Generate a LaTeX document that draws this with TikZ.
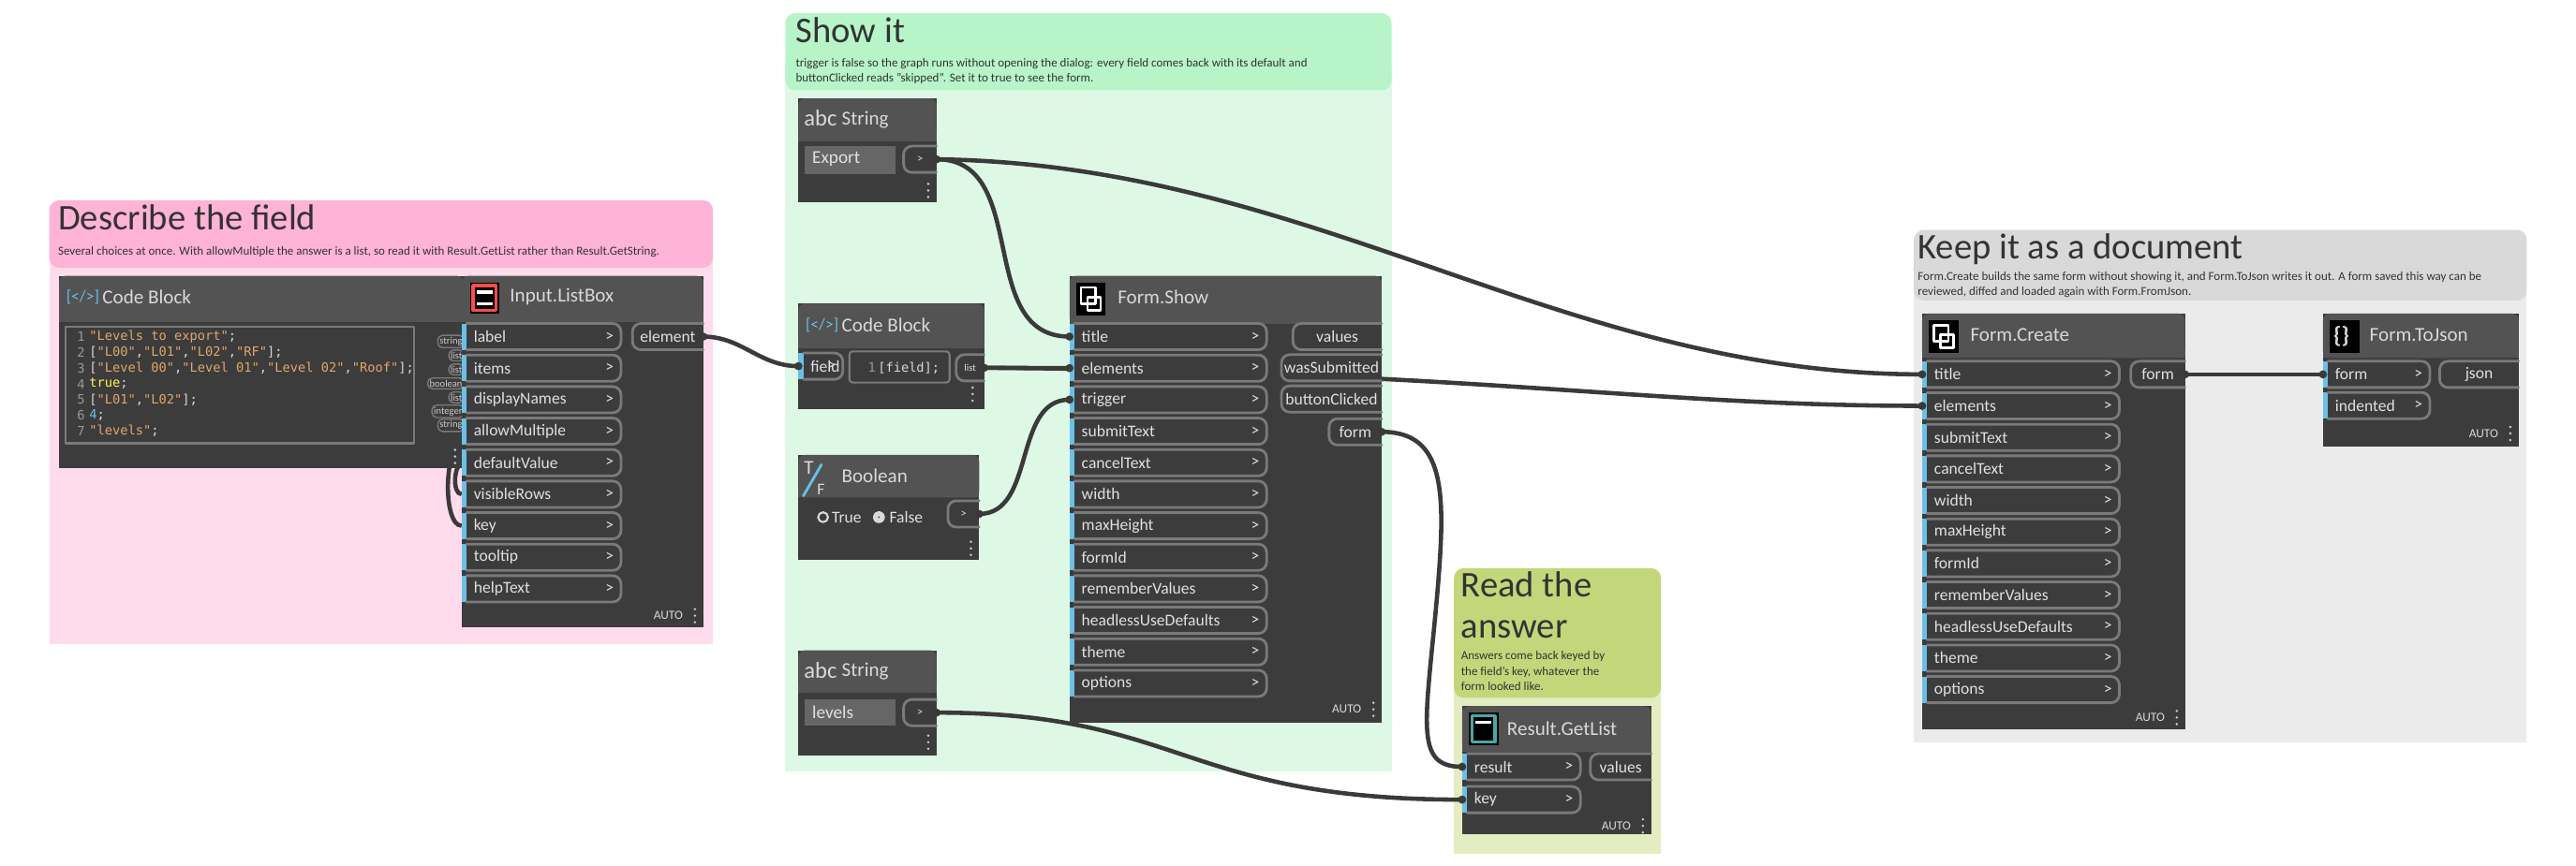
\documentclass[tikz,border=0pt]{standalone}
\usepackage{fontspec}
\setmainfont{Carlito}
\newfontfamily\codefont{DejaVu Sans Mono}
\usetikzlibrary{positioning}
\pgfdeclarelayer{grp}
\pgfdeclarelayer{wires}
\pgfsetlayers{grp,wires,main}
\definecolor{pinkhead}{HTML}{FFB3D6}
\definecolor{pinkbody}{HTML}{FFDCEB}
\definecolor{greenhead}{HTML}{B7F5C9}
\definecolor{greenbody}{HTML}{DDF8E5}
\definecolor{olivehead}{HTML}{C3D77A}
\definecolor{olivebody}{HTML}{E4ECC2}
\definecolor{greyhead}{HTML}{D9D9D9}
\definecolor{greybody}{HTML}{EBEBEB}
\definecolor{nodebg}{HTML}{3C3C3C}
\definecolor{nodehead}{HTML}{535353}
\definecolor{portblue}{HTML}{6AC0E7}
\definecolor{portline}{HTML}{7A7A7A}
\definecolor{wirecol}{HTML}{3A3A3A}
\definecolor{strcol}{HTML}{E0A86A}
\definecolor{grptext}{HTML}{333333}
\tikzset{
  grptitle/.style={anchor=north west,inner sep=0pt,text=grptext,font=\fontsize{11}{12.5}\selectfont},
  grpnote/.style={anchor=north west,inner sep=0pt,text=grptext,font=\fontsize{3.7}{4.8}\selectfont,align=left},
  ntitle/.style={anchor=west,inner sep=0pt,text=white!85!black,font=\fontsize{6}{7}\selectfont},
  plabel/.style={inner sep=0pt,text=white!88!black,font=\fontsize{5}{6}\selectfont},
  autolbl/.style={inner sep=0pt,text=white!85!black,font=\fontsize{3.8}{4}\selectfont},
  codetxt/.style={anchor=west,inner sep=0pt,font=\codefont\fontsize{3.9}{5}\selectfont},
  pbox/.style={draw=portline,line width=0.8pt,rounded corners=2.5pt},
  wire/.style={draw=wirecol,line width=1.3pt},
}
% node body with header band
\newcommand\dynbox[5]{%
  \fill[nodebg] (#1,#2) rectangle (#3,#4);
  \fill[nodehead,rounded corners=2pt] (#1,#5) |- (#3,#2) -- (#3,#5) -- cycle;
  \fill[nodehead] (#1,#5-6) rectangle (#3,#5);
}
% input port: name, x, y, width, label
\newcommand\inport[5]{%
  \fill[portblue] (#2,#3-8) rectangle (#2+3,#3+8);
  \draw[pbox] (#2+3,#3-8) -- (#2+#4,#3-8) -- (#2+#4,#3+8) -- (#2+3,#3+8);
  \node[plabel,anchor=west] at (#2+7,#3) {#5};
  \node[plabel,anchor=east] at (#2+#4-4,#3) {>};
  \coordinate (#1) at (#2,#3);
}
% output port: name, x1, x2, y, label
\newcommand\outport[5]{%
  \draw[pbox] (#3,#4-8) -- (#2,#4-8) -- (#2,#4+8) -- (#3,#4+8);
  \node[plabel] at ({(#2+#3)/2},#4) {#5};
  \coordinate (#1) at (#3,#4);
}
\newcommand\autotag[2]{%
  \node[autolbl,anchor=east] at (#1-12,#2) {AUTO};
  \foreach \d in {-4,0,4} \fill[white!80!black] (#1-5,#2+\d) circle (0.8);
}
\newcommand\formicon[2]{%
  \fill[black] (#1,#2) rectangle (#1+18,#2+20);
  \draw[white,line width=0.8pt] (#1+3,#2+3) rectangle (#1+12,#2+13);
  \draw[white,line width=0.8pt] (#1+7,#2+9) rectangle (#1+15,#2+17);
}
\begin{document}
\begin{tikzpicture}[x=0.01754cm,y=-0.01754cm,line cap=round,line join=round]
\useasboundingbox (0,0) rectangle (1568,527);
\begin{pgfonlayer}{grp}
\fill[white] (0,0) rectangle (1568,527);

% groups
\fill[pinkbody] (30,150) rectangle (434,392);
\fill[pinkhead,rounded corners=3pt] (30,163) |- (434,122) -- (434,163) -- cycle;
\node[grptitle] (tdescribe) at (35,124) {Describe the field};
\node[grpnote] at (35,150) {Several choices at once. With allowMultiple the answer is a list, so read it with Result.GetList rather than Result.GetString.};

\fill[greenbody] (478,40) rectangle (847,470);
\fill[greenhead,rounded corners=3pt] (478,55) |- (847,8) -- (847,55) -- cycle;
\node[grptitle] (tshow) at (484,10) {Show it};
\node[grpnote] at (484,35) {trigger is false so the graph runs without opening the dialog: every field comes back with its default and\\buttonClicked reads "skipped". Set it to true to see the form.};

\fill[olivebody] (885,410) rectangle (1011,520);
\fill[olivehead,rounded corners=3pt] (885,425) |- (1011,346) -- (1011,425) -- cycle;
\node[grptitle,align=left] (tread) at (889,348) {Read the\\answer};
\node[grpnote] at (889,396) {Answers come back keyed by\\the field's key, whatever the\\form looked like.};

\fill[greybody] (1165,170) rectangle (1538,452);
\fill[greyhead,rounded corners=3pt] (1165,183) |- (1538,140) -- (1538,183) -- cycle;
\node[grptitle] (tkeep) at (1167,142) {Keep it as a document};
\node[grpnote] at (1167,165) {Form.Create builds the same form without showing it, and Form.ToJson writes it out. A form saved this way can be\\reviewed, diffed and loaded again with Form.FromJson.};
\end{pgfonlayer}

% Code Block (levels data)
\dynbox{36}{168}{282}{285}{196}
\node[ntitle,text=portblue,font=\fontsize{5}{5}\selectfont] at (40,181) {[</>]};
\node[ntitle] (cbdata) at (62,181) {Code Block};
\draw[portline,line width=0.6pt] (40,199) rectangle (252,270);
\foreach \n [count=\i from 0] in {1,...,7} \node[codetxt,text=white!60!black,anchor=east] at (52,205+9.6*\i) {\n};
\node[codetxt,text=strcol] at (54,205) {"Levels to export"\textcolor{white!85!black}{;}};
\node[codetxt,text=strcol] at (54,214.6) {\textcolor{white!85!black}{[}"L00"\textcolor{white!85!black}{,}"L01"\textcolor{white!85!black}{,}"L02"\textcolor{white!85!black}{,}"RF"\textcolor{white!85!black}{];}};
\node[codetxt,text=strcol] at (54,224.2) {\textcolor{white!85!black}{[}"Level 00"\textcolor{white!85!black}{,}"Level 01"\textcolor{white!85!black}{,}"Level 02"\textcolor{white!85!black}{,}"Roof"\textcolor{white!85!black}{];}};
\node[codetxt,text=yellow!70!white] at (54,233.8) {true\textcolor{white!85!black}{;}};
\node[codetxt,text=strcol] at (54,243.4) {\textcolor{white!85!black}{[}"L01"\textcolor{white!85!black}{,}"L02"\textcolor{white!85!black}{];}};
\node[codetxt,text=portblue] at (54,253) {4\textcolor{white!85!black}{;}};
\node[codetxt,text=strcol] at (54,262.6) {"levels"\textcolor{white!85!black}{;}};
\foreach \t/\yy in {string/208,list/216.5,list/225,boolean/233.5,list/242,integer/250.5,string/259}
  \node[draw=portline,line width=0.4pt,rounded corners=1.5pt,inner sep=0.6pt,text=white!80!black,font=\fontsize{3}{3}\selectfont,anchor=east] at (283,\yy) {\t};
\foreach \d in {-4,0,4} \fill[white!80!black] (277,278+\d) circle (0.8);

% Input.ListBox
\dynbox{281}{168}{428}{382}{196}
\fill[black] (286,172) rectangle (304,191);
\draw[red!70!white,line width=1pt] (288,174) rectangle (302,189);
\fill[white] (290,177) rectangle (300,179); \fill[white] (290,184) rectangle (300,186);
\node[ntitle] (listbox) at (310,181) {Input.ListBox};
\foreach \nm/\lb [count=\i from 0] in {lbl/label,itm/items,dn/displayNames,am/allowMultiple,dv/defaultValue,vr/visibleRows,ky/key,tt/tooltip,ht/helpText}
  {\inport{lb\nm}{281}{205+19.2*\i}{97}{\lb}}
\outport{lbelement}{385}{428}{205}{element}
\autotag{428}{375}

% String Export
\dynbox{486}{60}{570}{123}{86}
\node[ntitle,font=\fontsize{7}{7}\selectfont] at (489,72) {abc};
\node[ntitle] (strexport) at (512,73) {String};
\fill[white!40!black] (490,89) rectangle (545,106);
\node[plabel,anchor=west,font=\fontsize{5.5}{6}\selectfont] at (494,97) {Export};
\outport{exportout}{550}{570}{97}{\scalebox{0.7}{>}}
\foreach \d in {-4,0,4} \fill[white!80!black] (565,116+\d) circle (0.8);

% Code Block [field]
\dynbox{486}{185}{599}{249}{212}
\node[ntitle,text=portblue,font=\fontsize{5}{5}\selectfont] at (490,198) {[</>]};
\node[ntitle] (cbfield) at (512,198) {Code Block};
\inport{cbin}{486}{223}{27}{field}
\draw[portline,line width=0.6pt,rounded corners=1pt] (517,214) rectangle (578,233);
\node[codetxt,text=white!85!black] at (528,224) {\textcolor{white!60!black}{1}\,[field];};
\outport{listout}{582}{599}{224}{\scalebox{0.6}{list}}
\foreach \d in {-4,0,4} \fill[white!80!black] (592,240+\d) circle (0.8);

% Boolean
\dynbox{486}{277}{596}{341}{303}
\node[ntitle] at (489,285) {T};
\draw[portblue,line width=0.8pt] (489,302) -- (500,283);
\node[ntitle,font=\fontsize{5}{5}\selectfont] at (497,298) {F};
\node[ntitle] (boolnode) at (512,290) {Boolean};
\draw[white!85!black,line width=0.6pt] (501,315) circle (3);
\node[plabel,anchor=west] at (506,315) {True};
\draw[white!85!black,line width=1.5pt] (535,315) circle (2.2);
\node[plabel,anchor=west] at (541,315) {False};
\outport{boolout}{577}{596}{313}{\scalebox{0.7}{>}}
\foreach \d in {-4,0,4} \fill[white!80!black] (591,334+\d) circle (0.8);

% String levels
\dynbox{486}{396}{570}{460}{422}
\node[ntitle,font=\fontsize{7}{7}\selectfont] at (489,408) {abc};
\node[ntitle] (strlevels) at (512,409) {String};
\fill[white!40!black] (490,426) rectangle (545,442);
\node[plabel,anchor=west,font=\fontsize{5.5}{6}\selectfont] at (494,434) {levels};
\outport{levelsout}{550}{570}{434}{\scalebox{0.7}{>}}
\foreach \d in {-4,0,4} \fill[white!80!black] (565,452+\d) circle (0.8);

% Form.Show
\dynbox{651}{168}{841}{440}{197}
\formicon{655}{172}
\node[ntitle] (formshow) at (680,181) {Form.Show};
\foreach \nm/\lb [count=\i from 0] in {ti/title,el/elements,tr/trigger,st/submitText,ct/cancelText,wi/width,mh/maxHeight,fi/formId,rv/rememberValues,hu/headlessUseDefaults,th/theme,op/options}
  {\inport{fs\nm}{651}{205+19.2*\i}{120}{\lb}}
\outport{fsvalues}{787}{841}{205}{values}
\outport{fswas}{780}{841}{224}{wasSubmitted}
\outport{fsbutton}{780}{841}{243}{buttonClicked}
\outport{fsform}{809}{841}{263}{form}
\autotag{841}{432}

% Result.GetList
\dynbox{890}{430}{1005}{508}{458}
\fill[black] (894,434) rectangle (912,454);
\draw[teal!70!white,line width=1pt] (896,436) rectangle (910,452);
\fill[white] (898,439) rectangle (908,441);
\node[ntitle] (getlist) at (917,444) {Result.GetList};
\inport{rgresult}{890}{467}{72}{result}
\inport{rgkey}{890}{487}{72}{key}
\outport{rgvalues}{968}{1005}{467}{values}
\autotag{1005}{503}

% Form.Create
\dynbox{1170}{191}{1330}{444}{218}
\formicon{1174}{195}
\node[ntitle] (formcreate) at (1199,204) {Form.Create};
\foreach \nm/\lb [count=\i from 0] in {ti/title,el/elements,st/submitText,ct/cancelText,wi/width,mh/maxHeight,fi/formId,rv/rememberValues,hu/headlessUseDefaults,th/theme,op/options}
  {\inport{fc\nm}{1170}{228+19.2*\i}{120}{\lb}}
\outport{fcform}{1297}{1330}{228}{form}
\autotag{1330}{437}

% Form.ToJson
\dynbox{1414}{191}{1533}{272}{218}
\fill[black] (1418,195) rectangle (1436,215);
\node[ntitle,font=\bfseries\fontsize{7}{7}\selectfont] at (1420,205) {\{\}};
\node[ntitle] (formtojson) at (1442,204) {Form.ToJson};
\inport{tjform}{1414}{228}{65}{form}
\inport{tjindented}{1414}{247}{65}{indented}
\outport{tjjson}{1485}{1533}{228}{json}
\autotag{1533}{264}

% connectors
\begin{pgfonlayer}{wires}
\draw[wire] (282,270) to[out=180,in=180,looseness=0.6] (lbky);
\draw[wire] (282,282) to[out=180,in=180,looseness=0.8] (lbvr);
\draw[wire] (lbelement) to[out=0,in=180] (cbin);
\draw[wire] (exportout) to[out=0,in=180,looseness=1.1] (fsti);
\draw[wire] (exportout) .. controls (800,100) and (950,228) .. (fcti);
\draw[wire] (listout) to[out=0,in=180] (fsel);
\draw[wire] (listout) .. controls (900,226) and (1000,247) .. (fcel);
\draw[wire] (boolout) to[out=0,in=180] (fstr);
\draw[wire] (fsform) .. controls (880,263) and (880,300) .. (875,360) .. controls (868,440) and (860,467) .. (rgresult);
\draw[wire] (levelsout) .. controls (720,434) and (720,487) .. (rgkey);
\draw[wire] (fcform) -- (tjform);
\end{pgfonlayer}
\foreach \p in {lbelement,cbin,exportout,listout,boolout,fsti,fsel,fstr,fsform,rgresult,rgkey,levelsout,fcti,fcel,fcform,tjform}
  \fill[wirecol] (\p) circle (2.5);
\end{tikzpicture}
\end{document}
